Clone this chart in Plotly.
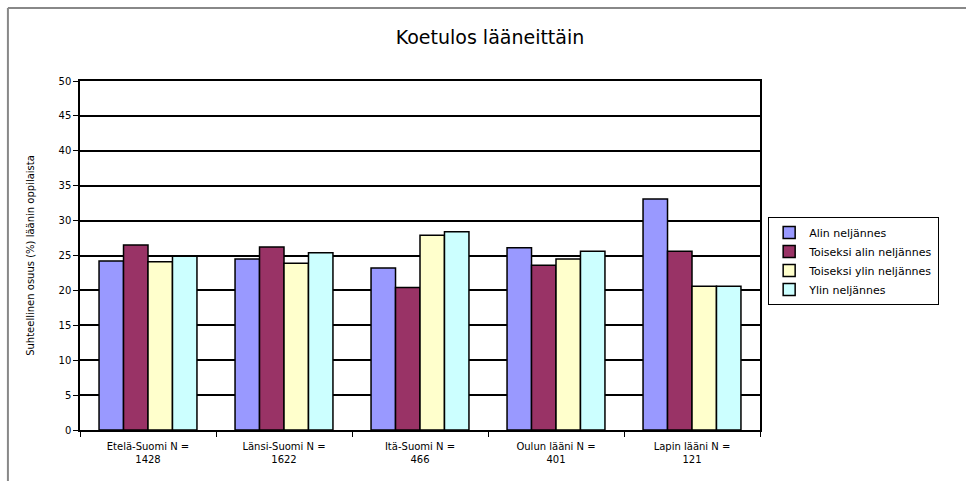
import plotly.graph_objects as go

# Data
laanit = ['Etelä-Suomi N =<br>1428', 'Länsi-Suomi N =<br>1622', 'Itä-Suomi N =<br>466',
          'Oulun lääni N =<br>401', 'Lapin lääni N =<br>121']
alin = [24.2, 24.5, 23.2, 26.1, 33.1]
toiseksi_alin = [26.5, 26.2, 20.4, 23.6, 25.6]
toiseksi_ylin = [24.1, 23.9, 27.9, 24.5, 20.6]
ylin = [24.9, 25.4, 28.4, 25.6, 20.6]

series = [
    ('Alin neljännes', alin, '#9999FF'),
    ('Toiseksi alin neljännes', toiseksi_alin, '#993366'),
    ('Toiseksi ylin neljännes', toiseksi_ylin, '#FFFFCC'),
    ('Ylin neljännes', ylin, '#CCFFFF'),
]

fig = go.Figure()
for name, vals, color in series:
    fig.add_trace(go.Bar(
        x=laanit, y=vals, name=name,
        marker=dict(color=color, line=dict(color='black', width=1.5)),
    ))

font_main = 'DejaVu Sans, Arial, sans-serif'

fig.update_layout(
    width=966, height=481,
    barmode='group', bargap=0.28, bargroupgap=0,
    plot_bgcolor='white', paper_bgcolor='white',
    margin=dict(l=80, r=206, t=81, b=51),
    font=dict(family=font_main, color='black', size=10),
    title=dict(text='Koetulos lääneittäin', x=490 / 966, xref='container', xanchor='center',
               y=1 - 37 / 481, yref='container', yanchor='middle',
               font=dict(size=19, family=font_main, color='black')),
    legend=dict(x=1.012, y=0.61, xanchor='left', yanchor='top',
                bordercolor='black', borderwidth=1, bgcolor='white', itemwidth=30,
                font=dict(size=11, family=font_main), tracegroupgap=0),
    xaxis=dict(showline=True, linecolor='black', linewidth=1.5, mirror=True,
               ticks='outside', tickson='boundaries', ticklen=5, tickcolor='black',
               ticklabelstandoff=6, tickfont=dict(size=10), showgrid=False),
    yaxis=dict(range=[0, 50], dtick=5, showline=True, linecolor='black', linewidth=1.5,
               mirror=True, ticks='outside', ticklen=5, tickcolor='black',
               showgrid=True, gridcolor='black', gridwidth=1.5, zeroline=False,
               tickfont=dict(size=10),
               title=dict(text='Suhteellinen osuus (%) läänin oppilaista',
                          font=dict(size=10), standoff=22)),
)

# outer chart frame (left and top edges visible)
fig.add_shape(type='line', xref='paper', yref='paper', x0=-0.106, x1=-0.106, y0=-0.2, y1=1.209,
              line=dict(color='#888888', width=2))
fig.add_shape(type='line', xref='paper', yref='paper', x0=-0.106, x1=1.31, y0=1.209, y1=1.209,
              line=dict(color='#888888', width=2))

# drop the default page margin so the figure sits at the window origin
fig.write_html('out.html', config={'displayModeBar': False},
               post_script="document.body.style.margin='0';")
